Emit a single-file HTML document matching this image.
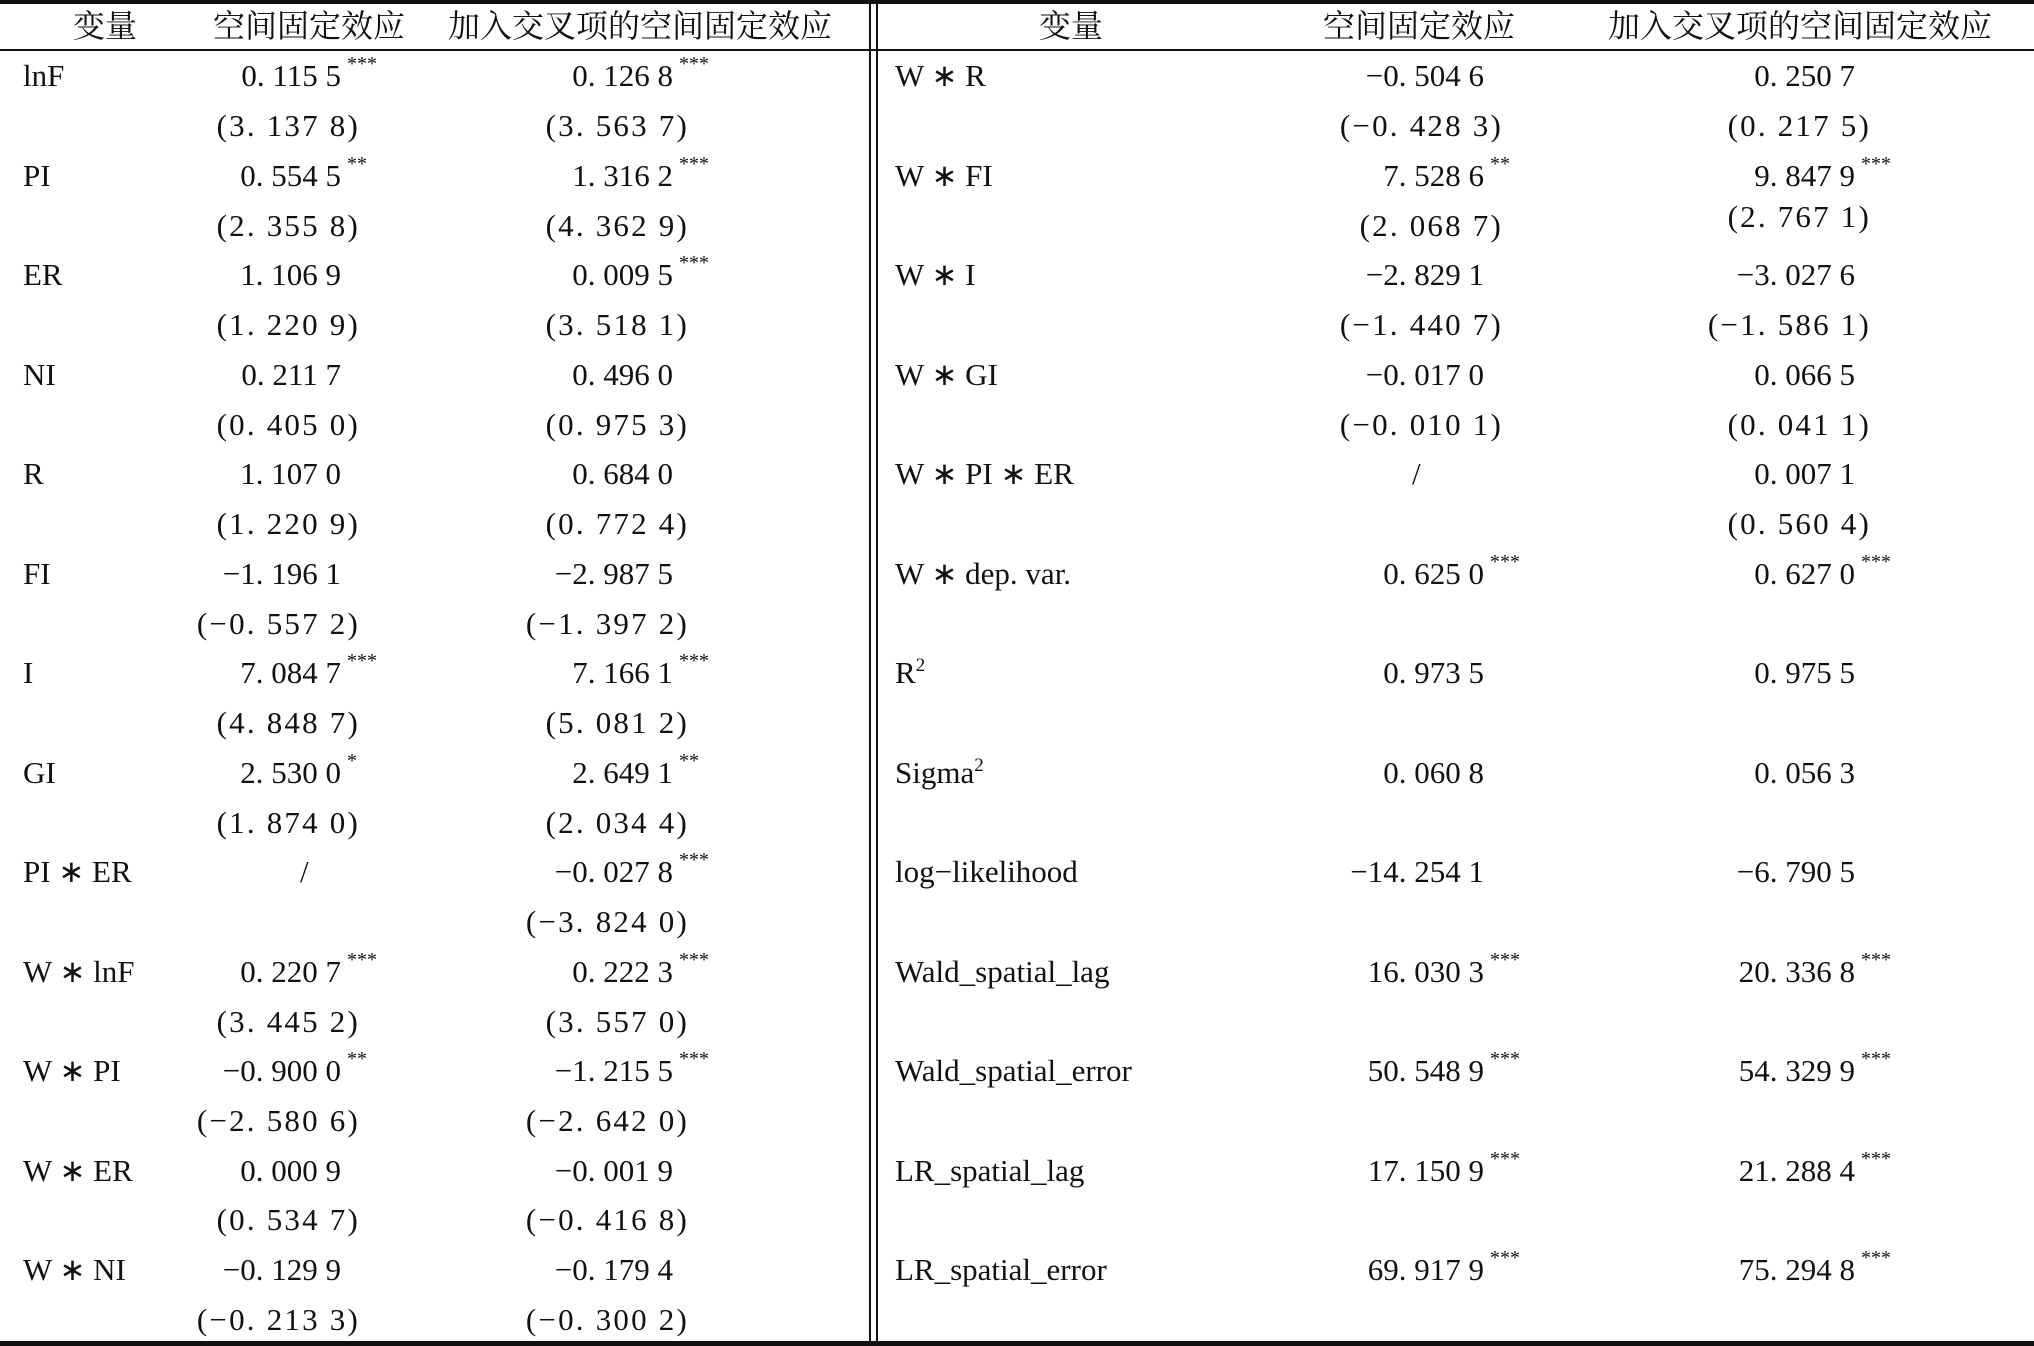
<!DOCTYPE html>
<html><head><meta charset="utf-8"><style>
body{margin:0;background:#fff;}
#w{position:relative;width:2034px;height:1346px;overflow:hidden;background:#fff;font-family:"Liberation Serif","Noto Serif CJK SC",serif;font-size:31px;color:#111;}
#w div{position:absolute;line-height:40px;white-space:pre;}
.h{font-family:"Liberation Serif","Noto Serif CJK SC",serif;font-size:32px;transform:translateX(-50%);top:6px;}
.l{left:23px}.r{left:895px}
.a{right:1693px}.ap{right:1674px}.b{right:1361px}.bp{right:1345px}
.c{right:550px}.cp{right:531px}.d{right:179px}.dp{right:163px}
.ap,.bp,.cp,.dp{letter-spacing:2.2px}
.s{position:absolute;left:100%;top:-12px;margin-left:6px;font-size:20px;letter-spacing:0}
sup{font-size:19px;vertical-align:0;position:relative;top:-12px;}
.ln{background:#111;}
</style></head><body><div id="w">
<div class="ln" style="left:0;top:0;width:2034px;height:4px"></div>
<div class="ln" style="left:0;top:49px;width:2034px;height:2px"></div>
<div class="ln" style="left:0;top:1341px;width:2034px;height:5px"></div>
<div class="ln" style="left:869px;top:0;width:2px;height:1346px"></div>
<div class="ln" style="left:876px;top:0;width:2px;height:1346px"></div>

<div class="h" style="left:105px">变量</div>
<div class="h" style="left:309px">空间固定效应</div>
<div class="h" style="left:640px">加入交叉项的空间固定效应</div>
<div class="h" style="left:1071px">变量</div>
<div class="h" style="left:1419px">空间固定效应</div>
<div class="h" style="left:1800px">加入交叉项的空间固定效应</div>

<div class="l" style="top:56px">lnF</div>
<div class="a" style="top:56px">0. 115 5<span class="s">***</span></div>
<div class="b" style="top:56px">0. 126 8<span class="s">***</span></div>
<div class="ap" style="top:106px">(3. 137 8)</div>
<div class="bp" style="top:106px">(3. 563 7)</div>

<div class="l" style="top:156px">PI</div>
<div class="a" style="top:156px">0. 554 5<span class="s">**</span></div>
<div class="b" style="top:156px">1. 316 2<span class="s">***</span></div>
<div class="ap" style="top:206px">(2. 355 8)</div>
<div class="bp" style="top:206px">(4. 362 9)</div>

<div class="l" style="top:255px">ER</div>
<div class="a" style="top:255px">1. 106 9</div>
<div class="b" style="top:255px">0. 009 5<span class="s">***</span></div>
<div class="ap" style="top:305px">(1. 220 9)</div>
<div class="bp" style="top:305px">(3. 518 1)</div>

<div class="l" style="top:355px">NI</div>
<div class="a" style="top:355px">0. 211 7</div>
<div class="b" style="top:355px">0. 496 0</div>
<div class="ap" style="top:405px">(0. 405 0)</div>
<div class="bp" style="top:405px">(0. 975 3)</div>

<div class="l" style="top:454px">R</div>
<div class="a" style="top:454px">1. 107 0</div>
<div class="b" style="top:454px">0. 684 0</div>
<div class="ap" style="top:504px">(1. 220 9)</div>
<div class="bp" style="top:504px">(0. 772 4)</div>

<div class="l" style="top:554px">FI</div>
<div class="a" style="top:554px">−1. 196 1</div>
<div class="b" style="top:554px">−2. 987 5</div>
<div class="ap" style="top:604px">(−0. 557 2)</div>
<div class="bp" style="top:604px">(−1. 397 2)</div>

<div class="l" style="top:653px">I</div>
<div class="a" style="top:653px">7. 084 7<span class="s">***</span></div>
<div class="b" style="top:653px">7. 166 1<span class="s">***</span></div>
<div class="ap" style="top:703px">(4. 848 7)</div>
<div class="bp" style="top:703px">(5. 081 2)</div>

<div class="l" style="top:753px">GI</div>
<div class="a" style="top:753px">2. 530 0<span class="s">*</span></div>
<div class="b" style="top:753px">2. 649 1<span class="s">**</span></div>
<div class="ap" style="top:803px">(1. 874 0)</div>
<div class="bp" style="top:803px">(2. 034 4)</div>

<div class="l" style="top:852px">PI ∗ ER</div>
<div style="top:852px;left:300px">/</div>
<div class="b" style="top:852px">−0. 027 8<span class="s">***</span></div>
<div class="bp" style="top:902px">(−3. 824 0)</div>

<div class="l" style="top:952px">W ∗ lnF</div>
<div class="a" style="top:952px">0. 220 7<span class="s">***</span></div>
<div class="b" style="top:952px">0. 222 3<span class="s">***</span></div>
<div class="ap" style="top:1002px">(3. 445 2)</div>
<div class="bp" style="top:1002px">(3. 557 0)</div>

<div class="l" style="top:1051px">W ∗ PI</div>
<div class="a" style="top:1051px">−0. 900 0<span class="s">**</span></div>
<div class="b" style="top:1051px">−1. 215 5<span class="s">***</span></div>
<div class="ap" style="top:1101px">(−2. 580 6)</div>
<div class="bp" style="top:1101px">(−2. 642 0)</div>

<div class="l" style="top:1151px">W ∗ ER</div>
<div class="a" style="top:1151px">0. 000 9</div>
<div class="b" style="top:1151px">−0. 001 9</div>
<div class="ap" style="top:1200px">(0. 534 7)</div>
<div class="bp" style="top:1200px">(−0. 416 8)</div>

<div class="l" style="top:1250px">W ∗ NI</div>
<div class="a" style="top:1250px">−0. 129 9</div>
<div class="b" style="top:1250px">−0. 179 4</div>
<div class="ap" style="top:1300px">(−0. 213 3)</div>
<div class="bp" style="top:1300px">(−0. 300 2)</div>

<div class="r" style="top:56px">W ∗ R</div>
<div class="c" style="top:56px">−0. 504 6</div>
<div class="d" style="top:56px">0. 250 7</div>
<div class="cp" style="top:106px">(−0. 428 3)</div>
<div class="dp" style="top:106px">(0. 217 5)</div>

<div class="r" style="top:156px">W ∗ FI</div>
<div class="c" style="top:156px">7. 528 6<span class="s">**</span></div>
<div class="d" style="top:156px">9. 847 9<span class="s">***</span></div>
<div class="cp" style="top:206px">(2. 068 7)</div>
<div class="dp" style="top:197px">(2. 767 1)</div>

<div class="r" style="top:255px">W ∗ I</div>
<div class="c" style="top:255px">−2. 829 1</div>
<div class="d" style="top:255px">−3. 027 6</div>
<div class="cp" style="top:305px">(−1. 440 7)</div>
<div class="dp" style="top:305px">(−1. 586 1)</div>

<div class="r" style="top:355px">W ∗ GI</div>
<div class="c" style="top:355px">−0. 017 0</div>
<div class="d" style="top:355px">0. 066 5</div>
<div class="cp" style="top:405px">(−0. 010 1)</div>
<div class="dp" style="top:405px">(0. 041 1)</div>

<div class="r" style="top:454px">W ∗ PI ∗ ER</div>
<div style="top:454px;left:1412px">/</div>
<div class="d" style="top:454px">0. 007 1</div>
<div class="dp" style="top:504px">(0. 560 4)</div>

<div class="r" style="top:554px">W ∗ dep. var.</div>
<div class="c" style="top:554px">0. 625 0<span class="s">***</span></div>
<div class="d" style="top:554px">0. 627 0<span class="s">***</span></div>

<div class="r" style="top:653px">R<sup>2</sup></div>
<div class="c" style="top:653px">0. 973 5</div>
<div class="d" style="top:653px">0. 975 5</div>

<div class="r" style="top:753px">Sigma<sup>2</sup></div>
<div class="c" style="top:753px">0. 060 8</div>
<div class="d" style="top:753px">0. 056 3</div>

<div class="r" style="top:852px">log−likelihood</div>
<div class="c" style="top:852px">−14. 254 1</div>
<div class="d" style="top:852px">−6. 790 5</div>

<div class="r" style="top:952px">Wald_spatial_lag</div>
<div class="c" style="top:952px">16. 030 3<span class="s">***</span></div>
<div class="d" style="top:952px">20. 336 8<span class="s">***</span></div>

<div class="r" style="top:1051px">Wald_spatial_error</div>
<div class="c" style="top:1051px">50. 548 9<span class="s">***</span></div>
<div class="d" style="top:1051px">54. 329 9<span class="s">***</span></div>

<div class="r" style="top:1151px">LR_spatial_lag</div>
<div class="c" style="top:1151px">17. 150 9<span class="s">***</span></div>
<div class="d" style="top:1151px">21. 288 4<span class="s">***</span></div>

<div class="r" style="top:1250px">LR_spatial_error</div>
<div class="c" style="top:1250px">69. 917 9<span class="s">***</span></div>
<div class="d" style="top:1250px">75. 294 8<span class="s">***</span></div>
</div></body></html>
